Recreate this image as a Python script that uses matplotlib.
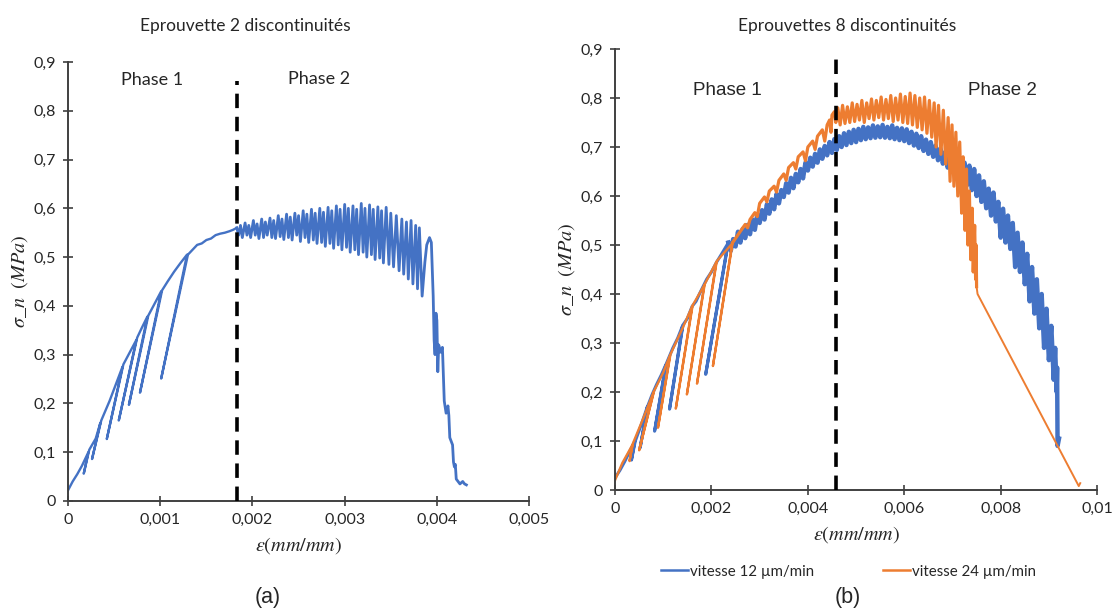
import matplotlib
matplotlib.use("Agg")
import matplotlib.pyplot as plt
from matplotlib.lines import Line2D

BLUE = "#4472C4"
ORANGE = "#ED7D31"
GREY = "#404040"

# ---- (a) Eprouvette 2 discontinuites ----
a_strain = [
    0, 0.00005, 0.0001, 0.00015, 0.00022, 0.00017, 0.00023, 0.0003, 0.00035, 0.00026,
    0.00036, 0.00045, 0.00052, 0.00059, 0.00042, 0.0006, 0.00067, 0.00074, 0.00055, 0.00075,
    0.0008, 0.00086, 0.00066, 0.00087, 0.00094, 0.00101, 0.00078, 0.00102, 0.00108, 0.00115,
    0.00122, 0.00129, 0.00101, 0.0013, 0.00135, 0.0014, 0.00145, 0.0015, 0.00155, 0.0016,
    0.00165, 0.0017, 0.00175, 0.00179, 0.00183,
    0.00185, 0.00187, 0.00189, 0.00192, 0.00194, 0.00196, 0.00198, 0.00201, 0.00203, 0.00205,
    0.00207, 0.0021, 0.00212, 0.00214, 0.00216, 0.00219, 0.00221, 0.00223, 0.00225, 0.00228,
    0.0023, 0.00232, 0.00234, 0.00237, 0.00239, 0.00241, 0.00243, 0.00246, 0.00248, 0.0025,
    0.00252, 0.00255, 0.00257, 0.00259, 0.00261, 0.00264, 0.00266, 0.00268, 0.0027, 0.00273,
    0.00275, 0.00277, 0.00279, 0.00282, 0.00284, 0.00286, 0.00288, 0.00291, 0.00293, 0.00295,
    0.00297, 0.003, 0.00302, 0.00304, 0.00306, 0.00309, 0.00311, 0.00313, 0.00315, 0.00318,
    0.0032, 0.00322, 0.00324, 0.00327, 0.00329, 0.00331, 0.00333, 0.00336, 0.00338, 0.0034,
    0.00342, 0.00345, 0.00348, 0.0035, 0.00353, 0.00356, 0.00359, 0.00362, 0.00364, 0.00367,
    0.00369, 0.00372, 0.00374, 0.00377, 0.00379, 0.00381, 0.00384, 0.00387, 0.00389, 0.00392,
    0.00394, 0.00396, 0.00397, 0.00398, 0.00399, 0.004, 0.00401, 0.00402, 0.00404, 0.00406,
    0.00407, 0.00408, 0.0041, 0.00412, 0.00413, 0.00414, 0.00416, 0.00417, 0.00418, 0.00419,
    0.0042, 0.00421, 0.00423, 0.00425, 0.00428, 0.0043, 0.00432,
]
a_stress = [
    0.022, 0.04, 0.055, 0.072, 0.1, 0.056, 0.105, 0.128, 0.16, 0.086,
    0.165, 0.205, 0.24, 0.275, 0.127, 0.28, 0.305, 0.33, 0.165, 0.335,
    0.355, 0.378, 0.197, 0.38, 0.405, 0.43, 0.222, 0.432, 0.45, 0.47,
    0.488, 0.505, 0.251, 0.505, 0.515, 0.525, 0.528, 0.535, 0.538, 0.545,
    0.548, 0.55, 0.553, 0.556, 0.56,
    0.545, 0.565, 0.54, 0.57, 0.545, 0.565, 0.54, 0.575, 0.545, 0.568,
    0.538, 0.578, 0.54, 0.572, 0.545, 0.58, 0.54, 0.575, 0.538, 0.585,
    0.542, 0.578, 0.536, 0.588, 0.54, 0.582, 0.535, 0.59, 0.545, 0.585,
    0.532, 0.595, 0.54, 0.588, 0.53, 0.598, 0.535, 0.59, 0.528, 0.6,
    0.53, 0.592, 0.522, 0.602, 0.528, 0.595, 0.518, 0.605, 0.525, 0.598,
    0.515, 0.608, 0.52, 0.6, 0.51, 0.605, 0.515, 0.598, 0.505, 0.61,
    0.51, 0.6, 0.5, 0.607, 0.505, 0.598, 0.495, 0.603, 0.498, 0.595,
    0.488, 0.602, 0.485, 0.59, 0.48, 0.585, 0.472, 0.578, 0.465, 0.572,
    0.455, 0.575, 0.445, 0.565, 0.435, 0.56, 0.42, 0.49, 0.525, 0.54,
    0.53, 0.42, 0.33, 0.3, 0.385, 0.37, 0.265, 0.32, 0.305, 0.315,
    0.26, 0.205, 0.18, 0.195, 0.175, 0.13, 0.12, 0.115, 0.08, 0.07,
    0.075, 0.045, 0.04, 0.035, 0.04, 0.035, 0.033,
]
a_xticks = [0, 0.001, 0.002, 0.003, 0.004, 0.005]
a_xlabels = ["0", "0,001", "0,002", "0,003", "0,004", "0,005"]
a_phase_limit = 0.00183

# ---- (b) Eprouvettes 8 discontinuites ----
v12_strain = [
    0, 0.0001, 0.0002, 0.0003, 0.00041, 0.00034, 0.00042, 0.00055, 0.00067, 0.00052,
    0.00068, 0.00077, 0.00086, 0.00096, 0.00105, 0.00082, 0.00106, 0.0012, 0.0013, 0.0014,
    0.00113, 0.00141, 0.0015, 0.0016, 0.00168, 0.00175, 0.0019, 0.002, 0.0021, 0.0022,
    0.00234, 0.00188, 0.00235,
    0.0024, 0.00245, 0.0025, 0.00255, 0.0026, 0.00265, 0.0027, 0.00275, 0.0028, 0.00285,
    0.0029, 0.00295, 0.003, 0.00305, 0.0031, 0.00315, 0.0032, 0.00325, 0.0033, 0.00335,
    0.0034, 0.00345, 0.0035, 0.00355, 0.0036, 0.00365, 0.0037, 0.00375, 0.0038, 0.00385,
    0.0039, 0.00395, 0.004, 0.00405, 0.0041, 0.00415, 0.0042, 0.00425, 0.0043, 0.00435,
    0.0044, 0.00445, 0.0045, 0.00455, 0.0046, 0.00465, 0.0047, 0.00475, 0.0048, 0.00485,
    0.0049, 0.00495, 0.005, 0.00505, 0.0051, 0.00515, 0.0052, 0.00525, 0.0053, 0.00535,
    0.0054, 0.00545, 0.0055, 0.00555, 0.0056, 0.00565, 0.0057, 0.00575, 0.0058, 0.00585,
    0.0059, 0.00595, 0.006, 0.00605, 0.0061, 0.00615, 0.0062, 0.00625, 0.0063, 0.00635,
    0.0064, 0.00645, 0.0065, 0.00655, 0.0066, 0.00665, 0.0067, 0.00675, 0.0068, 0.00685,
    0.0069, 0.00695, 0.007, 0.00705, 0.0071, 0.00715, 0.0072, 0.00725, 0.0073, 0.00735,
    0.0074, 0.00745, 0.0075, 0.00755, 0.0076, 0.00765, 0.0077, 0.00775, 0.0078, 0.00785,
    0.0079, 0.00795, 0.008, 0.00805, 0.0081, 0.00815, 0.0082, 0.00825, 0.0083, 0.00835,
    0.0084, 0.00845, 0.0085, 0.00855, 0.0086, 0.00865, 0.0087, 0.00875, 0.0088, 0.00885,
    0.0089, 0.00895, 0.009, 0.00905, 0.0091, 0.00913, 0.00916, 0.00917, 0.00918, 0.00921,
]
v12_stress = [
    0.025, 0.04, 0.058, 0.078, 0.1, 0.061, 0.1, 0.135, 0.17, 0.086,
    0.172, 0.195, 0.215, 0.235, 0.255, 0.12, 0.257, 0.29, 0.31, 0.335,
    0.165, 0.337, 0.35, 0.375, 0.385, 0.4, 0.43, 0.445, 0.464, 0.48,
    0.503, 0.236, 0.505,
    0.488, 0.512, 0.497, 0.527, 0.505, 0.533, 0.514, 0.541, 0.522, 0.552,
    0.531, 0.562, 0.545, 0.571, 0.552, 0.583, 0.564, 0.593, 0.573, 0.604,
    0.585, 0.612, 0.598, 0.626, 0.607, 0.637, 0.616, 0.645, 0.628, 0.655,
    0.636, 0.668, 0.652, 0.678, 0.66, 0.686, 0.668, 0.695, 0.676, 0.702,
    0.683, 0.71, 0.688, 0.716, 0.694, 0.722, 0.7, 0.728, 0.704, 0.731,
    0.708, 0.735, 0.71, 0.737, 0.714, 0.741, 0.716, 0.74, 0.718, 0.744,
    0.719, 0.742, 0.72, 0.745, 0.719, 0.741, 0.718, 0.744, 0.716, 0.739,
    0.714, 0.738, 0.712, 0.736, 0.708, 0.731, 0.703, 0.727, 0.698, 0.722,
    0.692, 0.715, 0.686, 0.71, 0.68, 0.703, 0.673, 0.697, 0.666, 0.69,
    0.658, 0.684, 0.65, 0.678, 0.644, 0.672, 0.63, 0.668, 0.622, 0.662,
    0.612, 0.655, 0.6, 0.642, 0.588, 0.63, 0.575, 0.615, 0.56, 0.607,
    0.548, 0.588, 0.515, 0.574, 0.505, 0.56, 0.492, 0.545, 0.455, 0.525,
    0.445, 0.505, 0.42, 0.482, 0.385, 0.455, 0.36, 0.43, 0.33, 0.4,
    0.29, 0.37, 0.265, 0.335, 0.225, 0.29, 0.2, 0.25, 0.09, 0.105,
]
v24_strain = [
    0, 0.00015, 0.00036, 0.0003, 0.00037, 0.0006, 0.0008, 0.0005, 0.00081, 0.001,
    0.00114, 0.00089, 0.00115, 0.0014, 0.0016, 0.00126, 0.00161, 0.00185, 0.00149, 0.00186,
    0.0021, 0.0017, 0.00211, 0.00243, 0.00203, 0.00244,
    0.0026, 0.0027, 0.00275, 0.0028, 0.0029, 0.00295, 0.003, 0.0031, 0.00315, 0.0032,
    0.0033, 0.00335, 0.0034, 0.0035, 0.00355, 0.0036, 0.0037, 0.00375, 0.0038, 0.0039,
    0.00395, 0.004, 0.0041, 0.00415, 0.0042, 0.0043, 0.00435, 0.0044, 0.00445, 0.00448,
    0.0045, 0.00455, 0.00458,
    0.00462, 0.00467, 0.00472, 0.00477, 0.00482, 0.00487, 0.00492, 0.00497, 0.00502, 0.00507,
    0.00512, 0.00517, 0.00522, 0.00527, 0.00532, 0.00537, 0.00542, 0.00547, 0.00552, 0.00557,
    0.00562, 0.00567, 0.00572, 0.00577, 0.00582, 0.00587, 0.00592, 0.00597, 0.00602, 0.00607,
    0.00612, 0.00617, 0.00622, 0.00627, 0.00632, 0.00637, 0.00642, 0.00647, 0.00652, 0.00657,
    0.00662, 0.00666, 0.00671, 0.00676, 0.00681, 0.00686, 0.00691, 0.00695, 0.00699, 0.00703,
    0.00707, 0.00711, 0.00715, 0.00719, 0.00722, 0.00726, 0.00729, 0.00732, 0.00735, 0.00738,
    0.00741, 0.00743, 0.00746, 0.00748, 0.00749, 0.0075, 0.00752, 0.00962, 0.00965,
]
v24_stress = [
    0.02, 0.055, 0.092, 0.059, 0.095, 0.15, 0.2, 0.081, 0.202, 0.24,
    0.275, 0.127, 0.277, 0.33, 0.375, 0.166, 0.377, 0.418, 0.195, 0.42,
    0.465, 0.217, 0.467, 0.503, 0.253, 0.505,
    0.528, 0.542, 0.535, 0.552, 0.566, 0.558, 0.585, 0.598, 0.588, 0.61,
    0.62, 0.608, 0.632, 0.645, 0.632, 0.658, 0.668, 0.655, 0.68, 0.69,
    0.672, 0.7, 0.712, 0.695, 0.722, 0.735, 0.712, 0.745, 0.755, 0.73,
    0.765, 0.772, 0.75,
    0.78, 0.745, 0.785, 0.748, 0.782, 0.75, 0.79, 0.752, 0.787, 0.755,
    0.795, 0.75, 0.79, 0.758, 0.798, 0.755, 0.795, 0.76, 0.802, 0.755,
    0.797, 0.758, 0.805, 0.752, 0.8, 0.755, 0.808, 0.75, 0.803, 0.748,
    0.81, 0.745, 0.805, 0.74, 0.8, 0.735, 0.802, 0.728, 0.795, 0.72,
    0.79, 0.7, 0.785, 0.685, 0.775, 0.665, 0.76, 0.63, 0.745, 0.62,
    0.73, 0.6, 0.71, 0.565, 0.68, 0.53, 0.655, 0.5, 0.61, 0.47,
    0.575, 0.445, 0.54, 0.43, 0.5, 0.415, 0.4, 0.008, 0.014,
]
b_xticks = [0, 0.002, 0.004, 0.006, 0.008, 0.01]
b_xlabels = ["0", "0,002", "0,004", "0,006", "0,008", "0,01"]
b_phase_limit = 0.00458

yticks = [0, 0.1, 0.2, 0.3, 0.4, 0.5, 0.6, 0.7, 0.8, 0.9]
ylabels = ["0", "0,1", "0,2", "0,3", "0,4", "0,5", "0,6", "0,7", "0,8", "0,9"]
legend_labels = ["vitesse 12 µm/min", "vitesse 24 µm/min"]

plt.rcParams["font.family"] = ["Lato", "DejaVu Sans"]
plt.rcParams["mathtext.fontset"] = "stix"

fig = plt.figure(figsize=(11.12, 6.10), dpi=100)
ax_a = fig.add_axes([0.0612, 0.1787, 0.4146, 0.7197])
ax_b = fig.add_axes([0.5531, 0.1967, 0.4335, 0.723])


def style_axes(ax, xticks, xlabels, xmax):
    ax.set_xlim(0, xmax)
    ax.set_ylim(0, 0.9)
    ax.set_xticks(xticks, xlabels)
    ax.set_yticks(yticks, ylabels)
    for side in ("top", "right"):
        ax.spines[side].set_visible(False)
    for side in ("left", "bottom"):
        ax.spines[side].set_color(GREY)
        ax.spines[side].set_linewidth(1.4)
    ax.tick_params(direction="inout", length=7, width=1.2, color=GREY,
                   labelsize=11.5, labelcolor="#262626", pad=5)
    ax.set_xlabel(r"$\varepsilon(mm/mm)$", fontsize=14.5, color="#262626", labelpad=6)
    ax.set_ylabel(r"$\sigma\_n\ \ (MPa)$", fontsize=14.5, color="#262626", labelpad=3)


style_axes(ax_a, a_xticks, a_xlabels, 0.005)
# loading loops thin, the oscillating phase a bit heavier
ax_a.plot(a_strain[:45], a_stress[:45], color=BLUE, lw=1.7)
ax_a.plot(a_strain[44:], a_stress[44:], color=BLUE, lw=2.0)
ax_a.vlines(a_phase_limit, 0, 0.862, colors="black", lw=2.6,
            linestyles=(0, (4, 2.4)), zorder=5)
ax_a.text(0.00091, 0.864, "Phase 1", fontsize=13, ha="center", va="center", color="#262626")
ax_a.text(0.00272, 0.866, "Phase 2", fontsize=13, ha="center", va="center", color="#262626")

style_axes(ax_b, b_xticks, b_xlabels, 0.01)
ax_b.plot(v12_strain[:33], v12_stress[:33], color=BLUE, lw=2.2)
ax_b.plot(v12_strain[32:], v12_stress[32:], color=BLUE, lw=3.2)
ax_b.plot(v24_strain[:26], v24_stress[:26], color=ORANGE, lw=1.7)
ax_b.plot(v24_strain[25:-3], v24_stress[25:-3], color=ORANGE, lw=2.3)
ax_b.plot(v24_strain[-4:], v24_stress[-4:], color=ORANGE, lw=1.4)
ax_b.vlines(b_phase_limit, 0, 0.882, colors="black", lw=2.6,
            linestyles=(0, (4, 2.4)), zorder=5)
ax_b.text(0.00232, 0.816, "Phase 1", fontsize=13.5, ha="center", va="center",
          family="Liberation Sans", color="#262626")
ax_b.text(0.00804, 0.816, "Phase 2", fontsize=13.5, ha="center", va="center",
          family="Liberation Sans", color="#262626")

fig.text(0.221, 0.958, "Eprouvette 2 discontinuités", fontsize=12.5, ha="center",
         va="center", color="#262626")
fig.text(0.762, 0.958, "Eprouvettes 8 discontinuités", fontsize=12.5, ha="center",
         va="center", color="#262626")
fig.text(0.241, 0.021, "(a)", fontsize=15.5, ha="center", va="center",
         family="Liberation Sans", color="#262626")
fig.text(0.7626, 0.021, "(b)", fontsize=15.5, ha="center", va="center",
         family="Liberation Sans", color="#262626")

handles = [Line2D([], [], color=BLUE, lw=1.8), Line2D([], [], color=ORANGE, lw=1.8)]
fig.legend(handles, legend_labels, loc="center", bbox_to_anchor=(0.763, 0.063),
           ncol=2, frameon=False, fontsize=10.8, handlelength=1.8, handletextpad=0.15,
           columnspacing=4.6, labelcolor="#262626")

fig.savefig("out.png", dpi=100)
